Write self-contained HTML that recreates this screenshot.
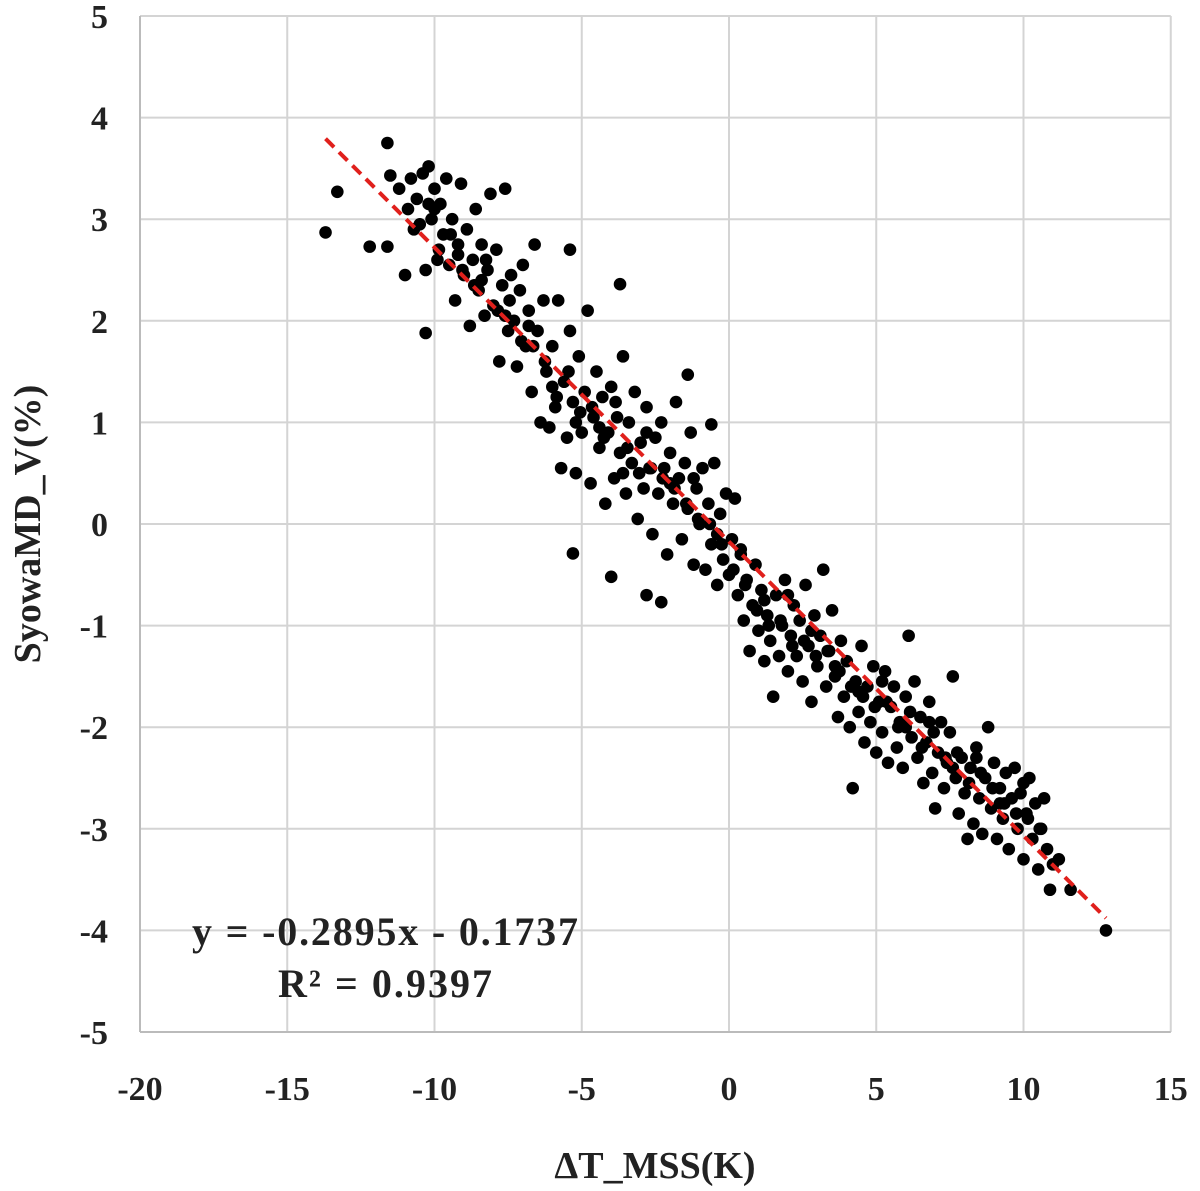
<!DOCTYPE html>
<html><head><meta charset="utf-8"><style>
html,body{margin:0;padding:0;background:#fff;}
svg{display:block;}
text{font-family:"Liberation Serif",serif;font-weight:bold;fill:#222;}
</style></head><body>
<svg id="chart" width="1200" height="1191" xmlns="http://www.w3.org/2000/svg">
<g id="grid"></g>
<g id="axes"></g>
<g id="points"></g>
<g id="trend"></g>
<text x="385" y="945" font-size="40" text-anchor="middle" textLength="386">y = -0.2895x - 0.1737</text>
<text x="385" y="997" font-size="40" text-anchor="middle" textLength="214">R² = 0.9397</text>
<text x="655" y="1178" font-size="38" text-anchor="middle">ΔT_MSS(K)</text>
<text transform="translate(40,524) rotate(-90)" font-size="38" text-anchor="middle">SyowaMD_V(%)</text>
</svg>
<script>
const xTicks=[-20,-15,-10,-5,0,5,10,15];
const yTicks=[5,4,3,2,1,0,-1,-2,-3,-4,-5];
const trendSlope=-0.2895;
const trendIntercept=-0.1737;
const trendRange=[-13.7,12.8];
const xs=[-13.7,-13.3,-11.6,-11.5,-12.2,-11.6,-10.3,-11,-10.2,-3.7,-5.4,-5.3,-4,-2.8,-2.3,-0.6,-1.4,12.8,4.2,6.1,1.5,10.9,8.1,7.6,
-11.2,-10.9,-10.8,-10.6,-10.5,-10.4,-10.3,-10.1,-10,-9.9,-9.8,-9.7,-9.6,-9.5,-9.4,-9.3,-9.2,-9.1,-9.0,-8.9,-8.8,-8.7,-8.6,-8.5,-8.4,-8.3,-8.2,-8.1,-8.0,-7.9,-7.8,-7.7,-7.6,-7.5,-7.4,-7.3,-7.2,-7.1,-7.0,-6.9,-6.8,-6.7,-6.6,-6.5,-6.4,-6.3,-6.2,-6.1,-6.0,-5.9,-5.8,-5.7,-5.6,-5.5,-5.4,-5.3,-5.2,-5.1,-5.0,-4.9,-4.8,-4.7,-4.6,-4.5,-4.4,-4.3,-4.2,-4.1,-4.0,-3.9,-3.8,-3.7,-3.6,-3.5,-3.4,-3.3,-3.2,-3.1,-3.0,-2.9,-2.8,-2.7,-2.6,-2.5,-2.4,-2.3,-2.2,-2.1,-2.0,-1.9,-1.8,-1.7,-1.6,-1.5,-1.4,-1.3,-1.2,-1.1,-1.0,-0.9,-0.8,-0.7,-0.6,-0.5,-0.4,-0.3,-0.2,-0.1,0,0.1,0.2,0.3,0.4,0.5,0.6,0.7,0.8,0.9,1.0,1.1,1.2,1.3,1.4,1.6,1.7,1.8,1.9,2.0,2.1,2.2,2.3,2.4,2.5,2.6,2.7,2.8,2.9,3.0,3.1,3.2,3.3,3.4,3.5,3.6,3.7,3.8,3.9,4.0,4.1,4.3,4.4,4.5,4.6,4.7,4.8,4.9,5.0,5.1,5.2,5.3,5.4,5.5,5.6,5.7,5.8,5.9,6.0,6.2,6.3,6.4,6.5,6.6,6.7,6.8,6.9,7.0,7.1,7.2,7.3,7.4,7.5,7.7,7.8,7.9,8.0,8.2,8.3,8.4,8.5,8.6,8.7,8.8,8.9,9.0,9.1,9.2,9.3,9.4,9.5,9.6,9.7,9.8,9.9,10.0,10.1,10.2,10.3,10.4,10.5,10.6,10.7,10.8,11.0,11.2,11.6,
-10.7,-10.2,-9.85,-9.45,-9.05,-8.65,-8.25,-7.85,-7.45,-7.05,-6.65,-6.25,-5.85,-5.45,-5.05,-4.65,-4.25,-3.85,-3.45,-3.05,-2.65,-2.25,-1.85,-1.45,-1.05,-0.65,-0.25,0.15,0.55,0.95,1.35,1.75,2.15,2.55,2.95,3.35,3.75,4.15,4.55,4.95,5.35,5.75,6.15,6.55,6.95,7.35,7.75,8.15,8.55,8.95,9.35,9.75,10.15,10.55,
-10.0,-9.2,-8.4,-7.6,-6.8,-6.0,-5.2,-4.4,-3.6,-2.8,-2.0,-1.2,-0.4,0.4,1.2,2.0,2.8,3.6,4.4,5.2,6.0,6.8,7.6,8.4,9.2,10.0];
const ys=[2.87,3.27,3.75,3.43,2.73,2.73,1.88,2.45,3.52,2.36,2.7,-0.29,-0.52,-0.7,-0.77,0.98,1.47,-4,-2.6,-1.1,-1.7,-3.6,-3.1,-1.5,
3.3,3.1,3.4,3.2,2.95,3.45,2.5,3.0,3.3,2.6,3.15,2.85,3.4,2.55,3.0,2.2,2.75,3.35,2.45,2.9,1.95,2.6,3.1,2.3,2.75,2.05,2.5,3.25,2.15,2.7,1.6,2.35,3.3,1.9,2.45,2.0,1.55,2.3,2.55,1.75,2.1,1.3,2.75,1.9,1.0,2.2,1.5,0.95,1.75,1.15,2.2,0.55,1.4,0.85,1.9,1.2,0.5,1.65,0.9,1.3,2.1,0.4,1.05,1.5,0.75,1.25,0.2,0.9,1.35,0.45,1.05,0.7,1.65,0.3,1.0,0.6,1.3,0.05,0.8,0.35,1.15,0.55,-0.1,0.85,0.3,1.0,0.55,-0.3,0.7,0.2,1.2,0.45,-0.15,0.6,0.15,0.9,-0.4,0.35,0.0,0.55,-0.45,0.2,-0.2,0.6,-0.6,0.1,-0.35,0.3,-0.5,-0.15,0.25,-0.7,-0.3,-0.95,-0.55,-1.25,-0.8,-0.4,-1.05,-0.65,-1.35,-0.9,-1.15,-0.7,-1.3,-1.0,-0.55,-1.45,-1.1,-0.8,-1.3,-0.95,-1.55,-0.6,-1.2,-1.75,-0.9,-1.4,-1.1,-0.45,-1.6,-1.25,-0.85,-1.5,-1.9,-1.15,-1.7,-1.35,-2.0,-1.55,-1.85,-1.2,-2.15,-1.6,-1.95,-1.4,-2.25,-1.75,-2.05,-1.45,-2.35,-1.8,-1.6,-2.2,-1.95,-2.4,-1.7,-2.1,-1.55,-2.3,-1.9,-2.55,-2.15,-1.75,-2.45,-2.8,-2.25,-1.95,-2.6,-2.35,-2.05,-2.5,-2.85,-2.3,-2.65,-2.4,-2.95,-2.2,-2.7,-3.05,-2.5,-2.0,-2.8,-2.35,-3.1,-2.6,-2.9,-2.45,-3.2,-2.7,-2.4,-3.0,-2.65,-3.3,-2.85,-2.5,-3.1,-2.75,-3.4,-3.0,-2.7,-3.2,-3.35,-3.3,-3.6,
2.9,3.15,2.7,2.85,2.5,2.35,2.6,2.1,2.2,1.8,1.75,1.6,1.25,1.5,1.1,1.15,0.85,1.2,0.75,0.5,0.55,0.45,0.35,0.2,0.05,0.0,-0.2,-0.45,-0.6,-0.85,-1.0,-0.95,-1.2,-1.15,-1.3,-1.25,-1.45,-1.6,-1.7,-1.8,-1.75,-2.0,-1.85,-2.2,-2.05,-2.3,-2.25,-2.55,-2.45,-2.6,-2.75,-2.85,-2.9,-3.0,
3.1,2.65,2.4,2.05,1.95,1.35,1.0,0.95,0.5,0.9,0.4,0.45,-0.1,-0.25,-0.75,-0.7,-1.05,-1.4,-1.65,-1.55,-2.0,-1.95,-2.4,-2.3,-2.75,-2.55];
const X=v=>729+v*29.45;
const Y=v=>524-v*101.6;
const NS="http://www.w3.org/2000/svg";
const grid=document.getElementById('grid'),axes=document.getElementById('axes');
function mk(tag,attrs,parent){const e=document.createElementNS(NS,tag);for(const k in attrs)e.setAttribute(k,attrs[k]);parent.appendChild(e);return e;}
xTicks.forEach(t=>{
 const l=mk('line',{x1:X(t),x2:X(t),y1:Y(5),y2:Y(-5),stroke:'#d4d4d4','stroke-width':2},grid);
 
 
 const tx=mk('text',{x:X(t),y:1100,'font-size':34,'text-anchor':'middle'},axes);tx.textContent=t;
 
 
});
yTicks.forEach(t=>{
 const l=mk('line',{x1:X(-20),x2:X(15),y1:Y(t),y2:Y(t),stroke:'#d4d4d4','stroke-width':2},grid);
 
 
 const tx=mk('text',{x:108,y:Y(t)+12,'font-size':34,'text-anchor':'end'},axes);tx.textContent=t;
 
 
});
const ax=mk('line',{x1:X(-20),x2:X(-20),y1:Y(5),y2:Y(-5),stroke:'#bbb','stroke-width':2},axes);


const ax2=mk('line',{x1:X(-20),x2:X(15),y1:Y(-5),y2:Y(-5),stroke:'#bbb','stroke-width':2},axes);


const pg=document.getElementById('points');
xs.forEach((x,i)=>{
 const c=mk('circle',{cx:X(x),cy:Y(ys[i]),r:6.3,fill:'#000'},pg);
 
 
});
const tl=mk('line',{x1:X(trendRange[0]),y1:Y(trendSlope*trendRange[0]+trendIntercept),x2:X(trendRange[1]),y2:Y(trendSlope*trendRange[1]+trendIntercept),stroke:'#e0201c','stroke-width':4,'stroke-dasharray':'12,7'},document.getElementById('trend'));


</script>
</body></html>
